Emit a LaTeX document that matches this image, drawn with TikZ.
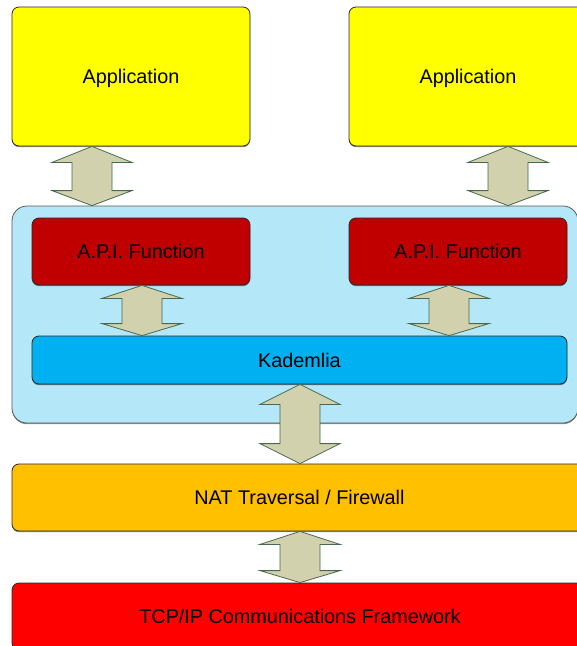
\documentclass[tikz,border=0pt]{standalone}
\usepackage{fontspec}
\setmainfont{Liberation Sans}
\usetikzlibrary{calc,shadows}

\definecolor{appyellow}{HTML}{FFFF00}
\definecolor{apired}{HTML}{C00000}
\definecolor{layerblue}{HTML}{B4E7F8}
\definecolor{kadblue}{HTML}{00B0F0}
\definecolor{natorange}{HTML}{FFC000}
\definecolor{tcpred}{HTML}{FF0000}
\definecolor{arrowfill}{HTML}{D1D2AD}
\definecolor{arrowline}{HTML}{466950}
\definecolor{boxline}{HTML}{2A2A2A}

\tikzset{
  layerbox/.style={draw=boxline, line width=0.8pt, rounded corners=7pt,
    minimum width=#1, inner sep=0pt, text height=14.5pt, text depth=0pt,
    font=\fontsize{19.8pt}{23pt}\selectfont,
    drop shadow={shadow xshift=0pt, shadow yshift=-1.2pt, opacity=0.45, fill=black}},
  twowayarrow/.style={fill=arrowfill, draw=arrowline, line width=0.8pt, line join=miter}
}

% Two-headed block arrow from anchor #1 down to anchor #2, centred on
% the x of coordinate #3; #4 and #5 are the lengths of the upper and lower heads.
\newcommand\twoway[5]{%
  \draw[twowayarrow] let \p1=(#1), \p2=(#2), \p3=(#3) in
    (\x3,\y1) -- ({\x3+40pt},{\y1-#4pt}) -- ({\x3+20pt},{\y1-#4pt})
    -- ({\x3+20pt},{\y2+#5pt}) -- ({\x3+40pt},{\y2+#5pt}) -- (\x3,\y2)
    -- ({\x3-40pt},{\y2+#5pt}) -- ({\x3-20pt},{\y2+#5pt})
    -- ({\x3-20pt},{\y1-#4pt}) -- ({\x3-40pt},{\y1-#4pt}) -- cycle;}

\begin{document}
\begin{tikzpicture}[x=1pt, y=-1pt]
  \useasboundingbox (0,0) rectangle (577,646);
  \clip (0,0) rectangle (577,646);
  \fill[white] (0,0) rectangle (577,646);

  % middleware layer holding the API functions and Kademlia
  \node[layerbox=566pt, minimum height=217pt, fill=layerblue, rounded corners=15pt,
        draw=black!65] (mid) at (295,314.5) {};

  % applications
  \node[layerbox=238pt, minimum height=139pt, fill=appyellow] (app1) at (131,76.5) {Application};
  \node[layerbox=238pt, minimum height=139pt, fill=appyellow] (app2) at (468,76.5) {Application};

  % API functions and DHT
  \node[layerbox=218pt, minimum height=67pt, fill=apired] (api1) at (141,251.5) {A.P.I. Function};
  \node[layerbox=218pt, minimum height=67pt, fill=apired] (api2) at (458,251.5) {A.P.I. Function};
  \node[layerbox=535pt, minimum height=48pt, fill=kadblue] (kad) at (299.5,360) {Kademlia};

  % transport layers
  \node[layerbox=575pt, minimum height=67pt, fill=natorange] (nat) at (299.5,497.5) {NAT Traversal / Firewall};
  \node[layerbox=576pt, minimum height=67pt, fill=tcpred] (tcp) at (300,616.5) {TCP/IP Communications Framework};

  % arrow axes
  \coordinate (ax1) at (92,0);
  \coordinate (ax2) at (508,0);
  \coordinate (ax3) at (142,0);
  \coordinate (ax4) at (449,0);
  \coordinate (ax5) at (300,0);

  % two-way arrows between the layers
  \twoway{app1.south}{mid.north}{ax1}{16}{15}
  \twoway{app2.south}{mid.north}{ax2}{16}{15}
  \twoway{api1.south}{kad.north}{ax3}{13}{12}
  \twoway{api2.south}{kad.north}{ax4}{13}{12}
  \twoway{kad.south}{nat.north}{ax5}{20}{20}
  \twoway{nat.south}{tcp.north}{ax5}{13}{12}
\end{tikzpicture}
\end{document}
